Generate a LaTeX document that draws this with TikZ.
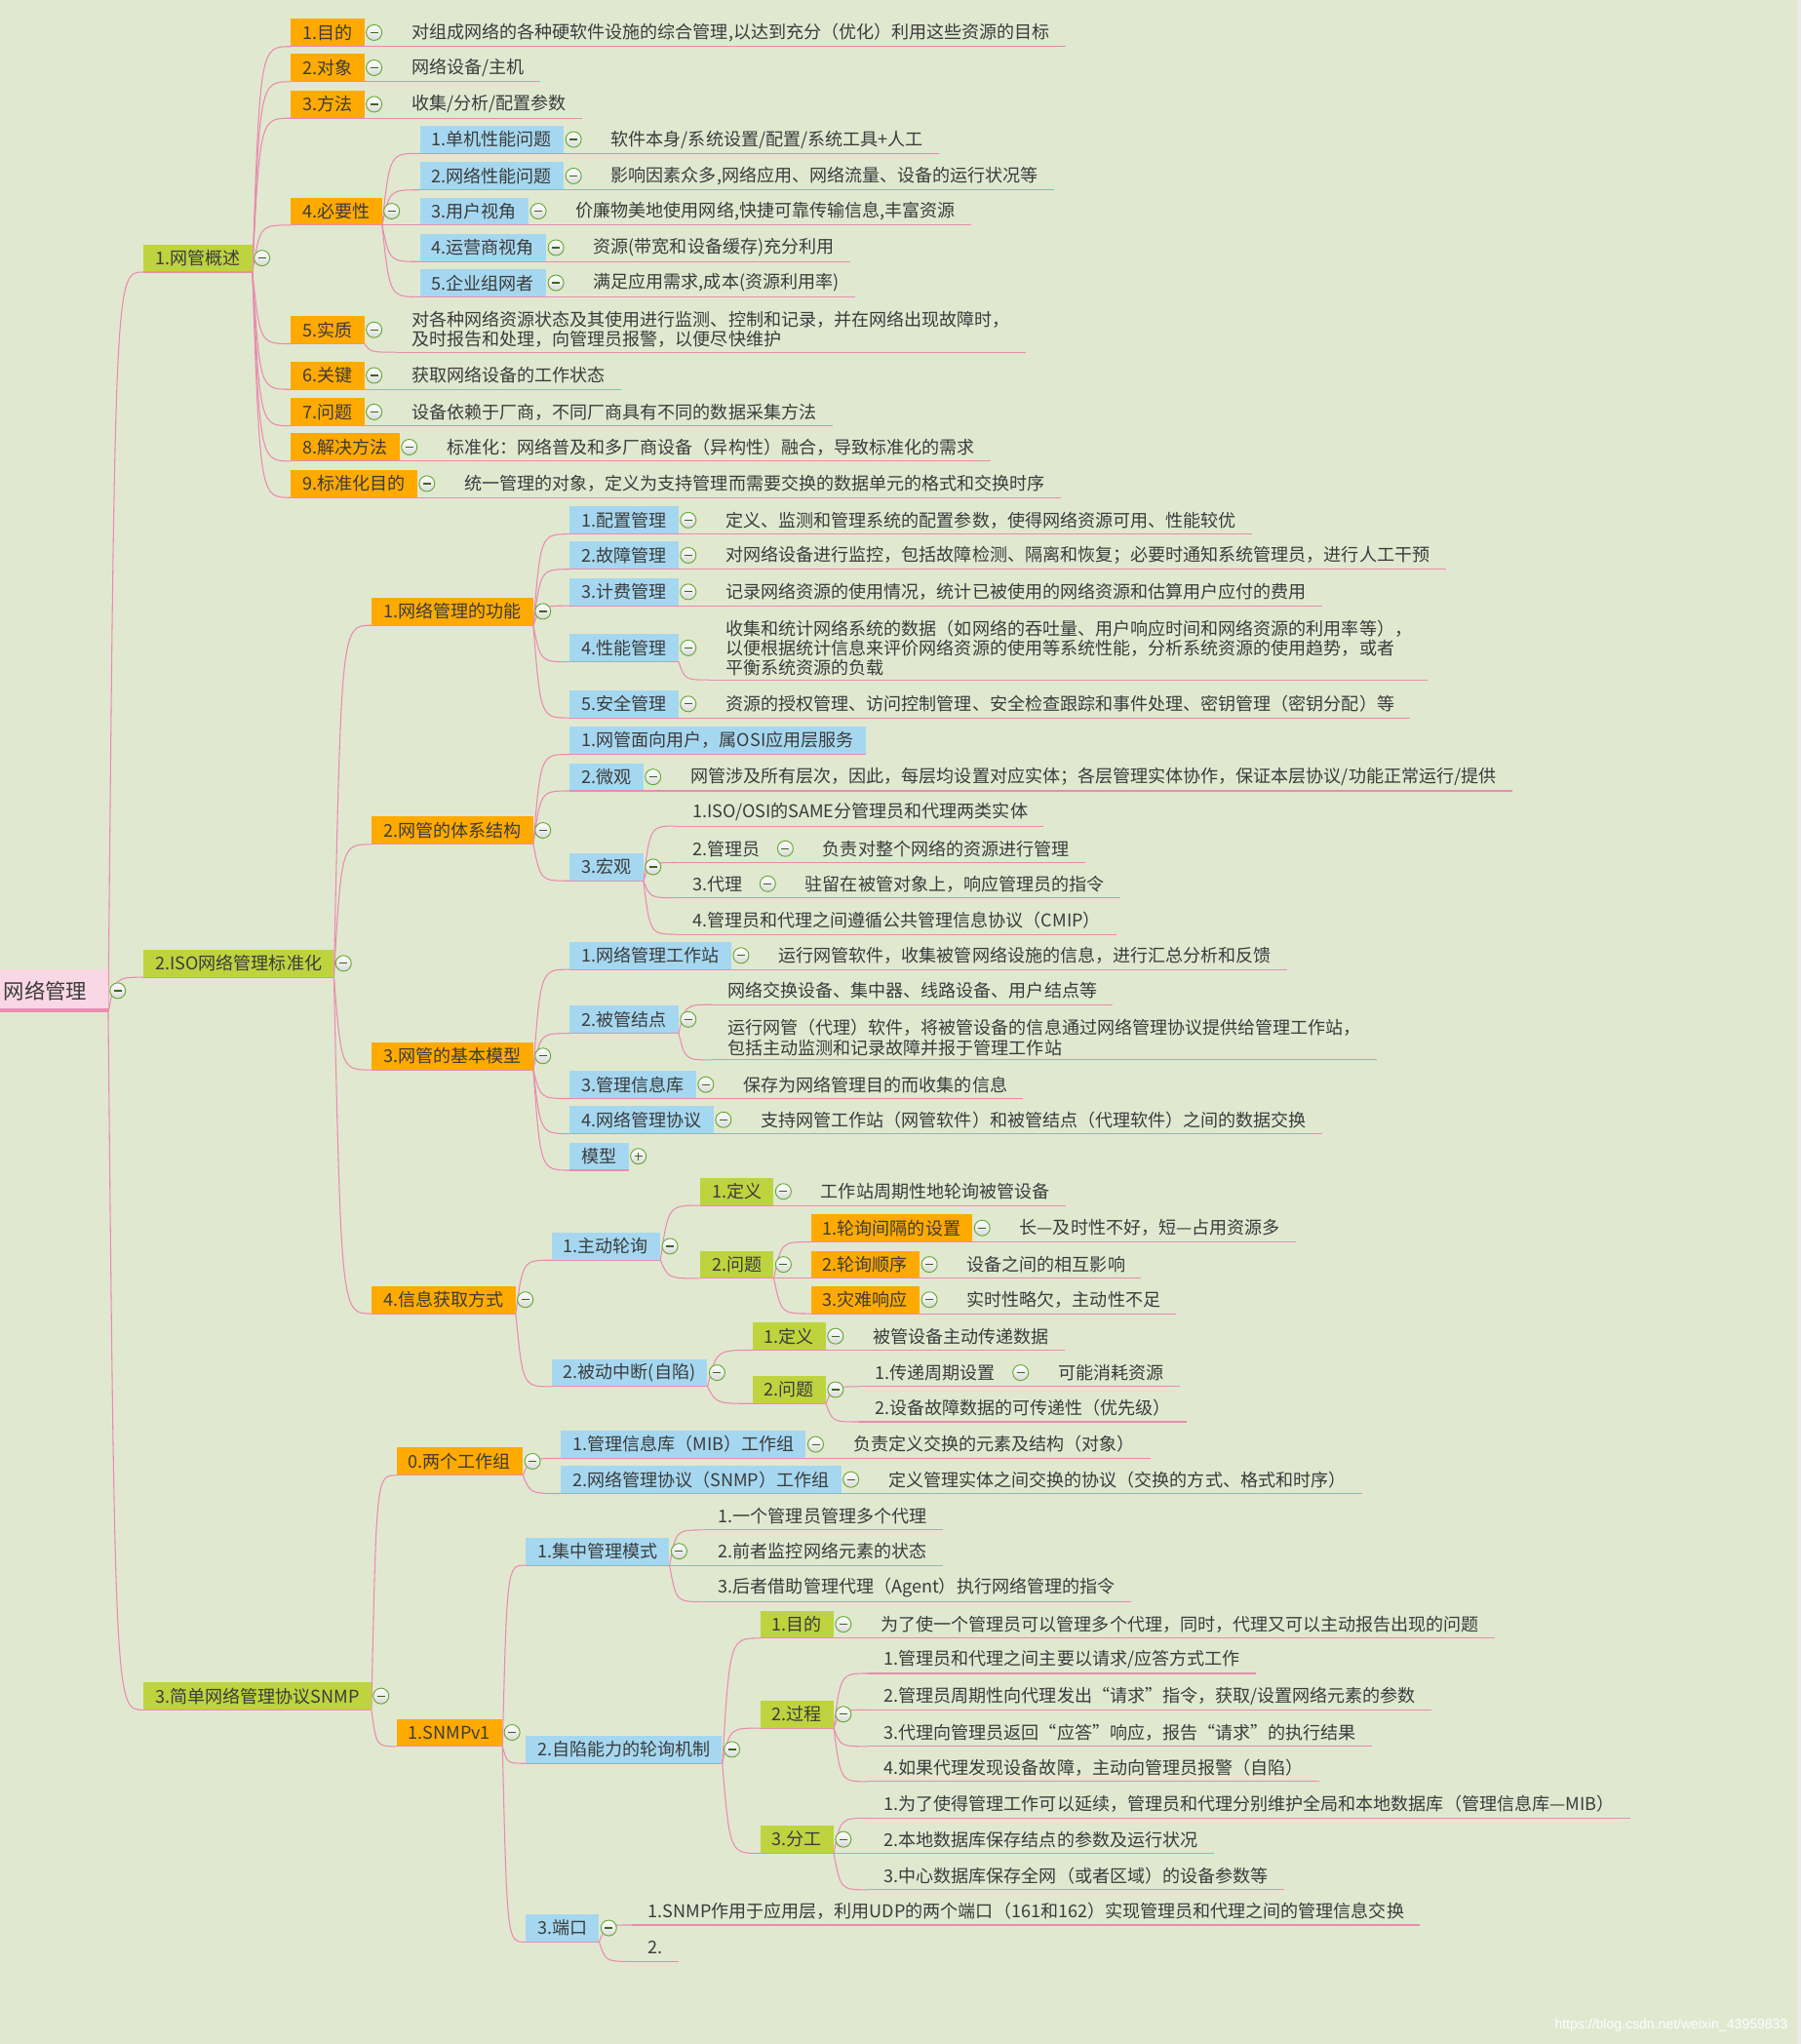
\documentclass[tikz,border=0pt]{standalone}
\usepackage{fontspec}
\newfontfamily\cjk{Noto Sans CJK SC}
\newfontfamily\wmfont{Liberation Sans}
\usepackage{tikz}
\usetikzlibrary{positioning,calc,backgrounds}
\usepackage{xcolor}
\definecolor{xbg}{RGB}{225,232,208}
\definecolor{xorange}{RGB}{255,170,0}
\definecolor{xblue}{RGB}{165,216,240}
\definecolor{xlime}{RGB}{190,212,62}
\definecolor{xroot}{RGB}{249,215,228}
\definecolor{xrootbar}{RGB}{234,140,178}
\definecolor{xpink}{RGB}{232,140,176}
\definecolor{xgreen}{RGB}{100,170,50}
\definecolor{ink}{RGB}{60,60,60}

\begin{document}
\begin{tikzpicture}[x=1pt,y=-1pt,
    every node/.style={font=\cjk\fontsize{13.5}{15}\selectfont, text=ink},
    uline/.style={append after command={(\tikzlastnode.south west) edge[draw=xpink, line width=0.8pt] (\tikzlastnode.south east)}},
    topic/.style={anchor=west, inner xsep=9pt, inner ysep=0pt, minimum height=21pt, uline},
    obox/.style={topic, fill=xorange},
    bbox/.style={topic, fill=xblue},
    gbox/.style={topic, fill=xlime},
    note/.style={anchor=west, inner xsep=12pt, inner ysep=3pt, minimum height=21pt, align=left, uline},
    fold/.style={circle, draw=xgreen, line width=0.7pt, top color=white, bottom color=black!15,
      minimum size=12pt, inner sep=0pt,
      path picture={\draw[xgreen!60!black, line width=0.9pt] ([xshift=-3pt]path picture bounding box.center) -- ([xshift=3pt]path picture bounding box.center);}},
    plusfold/.style={fold,
      path picture={\draw[xgreen!60!black, line width=0.9pt] ([xshift=-3pt]path picture bounding box.center) -- ([xshift=3pt]path picture bounding box.center)
        ([yshift=-3pt]path picture bounding box.center) -- ([yshift=3pt]path picture bounding box.center);}},
    folded/.style={label={[fold, label distance=1pt]0:{}}},
    unfolded/.style={label={[plusfold, label distance=1pt]0:{}}},
    link/.style={draw=xpink, line width=0.8pt,
      to path={let \p1=(\tikztostart), \p2=(\tikztotarget) in .. controls ({\x1+0.2*(\x2-\x1)},\y2) .. (\tikztotarget)}}]
  \useasboundingbox (0,0) rectangle (1382,1568);
  \begin{scope}[on background layer]
    \fill[xbg] (0,0) rectangle (1382,1568);
    \fill[black!8] (1379,0) rectangle (1382,1568);
  \end{scope}

  % central topic
  \node[fill=xroot, anchor=east, inner xsep=16pt, minimum height=33pt, folded,
    font=\cjk\fontsize{16}{18}\selectfont] (root) at (83,760) {网络管理};
  \fill[xrootbar] (root.south west) rectangle ([yshift=3pt]root.south east);

  \node[gbox, folded] (ov) at (110,198) {1.网管概述};
  \node[gbox, folded] (iso) at (110,739) {2.ISO网络管理标准化};
  \node[gbox, folded] (snmp) at (110,1301) {3.简单网络管理协议SNMP};

  % 1. overview
  \node[obox, folded] (ov1) at (223,25) {1.目的};
  \node[note, right=24pt of ov1] (ov1t) {对组成网络的各种硬软件设施的综合管理,以达到充分（优化）利用这些资源的目标};
  \node[obox, folded] (ov2) at (223,52) {2.对象};
  \node[note, right=24pt of ov2] (ov2t) {网络设备/主机};
  \node[obox, folded] (ov3) at (223,80) {3.方法};
  \node[note, right=24pt of ov3] (ov3t) {收集/分析/配置参数};
  \node[obox, folded] (ov4) at (223,162) {4.必要性};
    \node[bbox, folded] (ov4a) at (322,107) {1.单机性能问题};
    \node[note, right=24pt of ov4a] (ov4at) {软件本身/系统设置/配置/系统工具+人工};
    \node[bbox, folded] (ov4b) at (322,135) {2.网络性能问题};
    \node[note, right=24pt of ov4b] (ov4bt) {影响因素众多,网络应用、网络流量、设备的运行状况等};
    \node[bbox, folded] (ov4c) at (322,162) {3.用户视角};
    \node[note, right=24pt of ov4c] (ov4ct) {价廉物美地使用网络,快捷可靠传输信息,丰富资源};
    \node[bbox, folded] (ov4d) at (322,190) {4.运营商视角};
    \node[note, right=24pt of ov4d] (ov4dt) {资源(带宽和设备缓存)充分利用};
    \node[bbox, folded] (ov4e) at (322,217) {5.企业组网者};
    \node[note, right=24pt of ov4e] (ov4et) {满足应用需求,成本(资源利用率)};
  \node[obox, folded] (ov5) at (223,253) {5.实质};
  \node[note, right=24pt of ov5] (ov5t) {对各种网络资源状态及其使用进行监测、控制和记录，并在网络出现故障时，\\及时报告和处理，向管理员报警，以便尽快维护};
  \node[obox, folded] (ov6) at (223,288) {6.关键};
  \node[note, right=24pt of ov6] (ov6t) {获取网络设备的工作状态};
  \node[obox, folded] (ov7) at (223,316) {7.问题};
  \node[note, right=24pt of ov7] (ov7t) {设备依赖于厂商，不同厂商具有不同的数据采集方法};
  \node[obox, folded] (ov8) at (223,343) {8.解决方法};
  \node[note, right=24pt of ov8] (ov8t) {标准化：网络普及和多厂商设备（异构性）融合，导致标准化的需求};
  \node[obox, folded] (ov9) at (223,371) {9.标准化目的};
  \node[note, right=24pt of ov9] (ov9t) {统一管理的对象，定义为支持管理而需要交换的数据单元的格式和交换时序};

  % 2. ISO standard
  \node[obox, folded] (fn) at (285,469) {1.网络管理的功能};
    \node[bbox, folded] (fn1) at (437,399) {1.配置管理};
    \node[note, right=24pt of fn1] (fn1t) {定义、监测和管理系统的配置参数，使得网络资源可用、性能较优};
    \node[bbox, folded] (fn2) at (437,426) {2.故障管理};
    \node[note, right=24pt of fn2] (fn2t) {对网络设备进行监控，包括故障检测、隔离和恢复；必要时通知系统管理员，进行人工干预};
    \node[bbox, folded] (fn3) at (437,454) {3.计费管理};
    \node[note, right=24pt of fn3] (fn3t) {记录网络资源的使用情况，统计已被使用的网络资源和估算用户应付的费用};
    \node[bbox, folded] (fn4) at (437,497) {4.性能管理};
    \node[note, right=24pt of fn4] (fn4t) {收集和统计网络系统的数据（如网络的吞吐量、用户响应时间和网络资源的利用率等），\\以便根据统计信息来评价网络资源的使用等系统性能，分析系统资源的使用趋势，或者\\平衡系统资源的负载};
    \node[bbox, folded] (fn5) at (437,540) {5.安全管理};
    \node[note, right=24pt of fn5] (fn5t) {资源的授权管理、访问控制管理、安全检查跟踪和事件处理、密钥管理（密钥分配）等};
  \node[obox, folded] (ar) at (285,637) {2.网管的体系结构};
    \node[bbox] (ar1) at (437,568) {1.网管面向用户，属OSI应用层服务};
    \node[bbox, folded] (ar2) at (437,596) {2.微观};
    \node[note, right=24pt of ar2] (ar2t) {网管涉及所有层次，因此，每层均设置对应实体；各层管理实体协作，保证本层协议/功能正常运行/提供};
    \node[bbox, folded] (ar3) at (437,665) {3.宏观};
      \node[note] (ar3a) at (519,623) {1.ISO/OSI的SAME分管理员和代理两类实体};
      \node[note, folded] (ar3b) at (519,651) {2.管理员};
      \node[note, right=24pt of ar3b] (ar3bt) {负责对整个网络的资源进行管理};
      \node[note, folded] (ar3c) at (519,678) {3.代理};
      \node[note, right=24pt of ar3c] (ar3ct) {驻留在被管对象上，响应管理员的指令};
      \node[note] (ar3d) at (519,706) {4.管理员和代理之间遵循公共管理信息协议（CMIP）};
  \node[obox, folded] (bm) at (285,810) {3.网管的基本模型};
    \node[bbox, folded] (bm1) at (437,733) {1.网络管理工作站};
    \node[note, right=24pt of bm1] (bm1t) {运行网管软件，收集被管网络设施的信息，进行汇总分析和反馈};
    \node[bbox, folded] (bm2) at (437,782) {2.被管结点};
      \node[note] (bm2a) at (546,760) {网络交换设备、集中器、线路设备、用户结点等};
      \node[note] (bm2b) at (546,796) {运行网管（代理）软件，将被管设备的信息通过网络管理协议提供给管理工作站，\\包括主动监测和记录故障并报于管理工作站};
    \node[bbox, folded] (bm3) at (437,832) {3.管理信息库};
    \node[note, right=24pt of bm3] (bm3t) {保存为网络管理目的而收集的信息};
    \node[bbox, folded] (bm4) at (437,859) {4.网络管理协议};
    \node[note, right=24pt of bm4] (bm4t) {支持网管工作站（网管软件）和被管结点（代理软件）之间的数据交换};
    \node[bbox, unfolded] (bm5) at (437,887) {模型};
  \node[obox, folded] (ia) at (285,997) {4.信息获取方式};
    \node[bbox, folded] (ia1) at (423,956) {1.主动轮询};
      \node[gbox, folded] (ia1a) at (537,914) {1.定义};
      \node[note, right=24pt of ia1a] (ia1at) {工作站周期性地轮询被管设备};
      \node[gbox, folded] (ia1b) at (537,970) {2.问题};
        \node[obox, folded] (ia1b1) at (622,942) {1.轮询间隔的设置};
        \node[note, right=24pt of ia1b1] (ia1b1t) {长—及时性不好，短—占用资源多};
        \node[obox, folded] (ia1b2) at (622,970) {2.轮询顺序};
        \node[note, right=24pt of ia1b2] (ia1b2t) {设备之间的相互影响};
        \node[obox, folded] (ia1b3) at (622,997) {3.灾难响应};
        \node[note, right=24pt of ia1b3] (ia1b3t) {实时性略欠，主动性不足};
    \node[bbox, folded] (ia2) at (423,1053) {2.被动中断(自陷)};
      \node[gbox, folded] (ia2a) at (577,1025) {1.定义};
      \node[note, right=24pt of ia2a] (ia2at) {被管设备主动传递数据};
      \node[gbox, folded] (ia2b) at (577,1066) {2.问题};
        \node[note, folded] (ia2b1) at (659,1053) {1.传递周期设置};
        \node[note, right=24pt of ia2b1] (ia2b1t) {可能消耗资源};
        \node[note] (ia2b2) at (659,1080) {2.设备故障数据的可传递性（优先级）};

  % 3. SNMP
  \node[obox, folded] (wg) at (304,1121) {0.两个工作组};
    \node[bbox, folded] (wg1) at (430,1108) {1.管理信息库（MIB）工作组};
    \node[note, right=24pt of wg1] (wg1t) {负责定义交换的元素及结构（对象）};
    \node[bbox, folded] (wg2) at (430,1135) {2.网络管理协议（SNMP）工作组};
    \node[note, right=24pt of wg2] (wg2t) {定义管理实体之间交换的协议（交换的方式、格式和时序）};
  \node[obox, folded] (v1) at (304,1329) {1.SNMPv1};
    \node[bbox, folded] (v1a) at (403,1190) {1.集中管理模式};
      \node[note] (v1a1) at (539,1163) {1.一个管理员管理多个代理};
      \node[note] (v1a2) at (539,1190) {2.前者监控网络元素的状态};
      \node[note] (v1a3) at (539,1218) {3.后者借助管理代理（Agent）执行网络管理的指令};
    \node[bbox, folded] (v1b) at (403,1342) {2.自陷能力的轮询机制};
      \node[gbox, folded] (v1b1) at (583,1246) {1.目的};
      \node[note, right=24pt of v1b1] (v1b1t) {为了使一个管理员可以管理多个代理，同时，代理又可以主动报告出现的问题};
      \node[gbox, folded] (v1b2) at (583,1315) {2.过程};
        \node[note] (v1b2a) at (666,1273) {1.管理员和代理之间主要以请求/应答方式工作};
        \node[note] (v1b2b) at (666,1301) {2.管理员周期性向代理发出“请求”指令，获取/设置网络元素的参数};
        \node[note] (v1b2c) at (666,1329) {3.代理向管理员返回“应答”响应，报告“请求”的执行结果};
        \node[note] (v1b2d) at (666,1356) {4.如果代理发现设备故障，主动向管理员报警（自陷）};
      \node[gbox, folded] (v1b3) at (583,1411) {3.分工};
        \node[note] (v1b3a) at (666,1384) {1.为了使得管理工作可以延续，管理员和代理分别维护全局和本地数据库（管理信息库—MIB）};
        \node[note] (v1b3b) at (666,1411) {2.本地数据库保存结点的参数及运行状况};
        \node[note] (v1b3c) at (666,1439) {3.中心数据库保存全网（或者区域）的设备参数等};
    \node[bbox, folded] (v1c) at (403,1479) {3.端口};
      \node[note] (v1c1) at (485,1466) {1.SNMP作用于应用层，利用UDP的两个端口（161和162）实现管理员和代理之间的管理信息交换};
      \node[note] (v1c2) at (485,1494) {2.};

  % branches, behind the fold buttons
  \begin{scope}[on background layer]
  \foreach \a/\b in {root/ov, root/iso, root/snmp,
      ov/ov1, ov/ov2, ov/ov3, ov/ov4, ov/ov5, ov/ov6, ov/ov7, ov/ov8, ov/ov9,
      ov4/ov4a, ov4/ov4b, ov4/ov4c, ov4/ov4d, ov4/ov4e,
      iso/fn, iso/ar, iso/bm, iso/ia,
      fn/fn1, fn/fn2, fn/fn3, fn/fn4, fn/fn5,
      ar/ar1, ar/ar2, ar/ar3, ar3/ar3a, ar3/ar3b, ar3/ar3c, ar3/ar3d,
      bm/bm1, bm/bm2, bm/bm3, bm/bm4, bm/bm5, bm2/bm2a, bm2/bm2b,
      ia/ia1, ia/ia2, ia1/ia1a, ia1/ia1b, ia1b/ia1b1, ia1b/ia1b2, ia1b/ia1b3,
      ia2/ia2a, ia2/ia2b, ia2b/ia2b1, ia2b/ia2b2,
      snmp/wg, snmp/v1, wg/wg1, wg/wg2,
      v1/v1a, v1/v1b, v1/v1c, v1a/v1a1, v1a/v1a2, v1a/v1a3,
      v1b/v1b1, v1b/v1b2, v1b/v1b3, v1b2/v1b2a, v1b2/v1b2b, v1b2/v1b2c, v1b2/v1b2d,
      v1b3/v1b3a, v1b3/v1b3b, v1b3/v1b3c, v1c/v1c1, v1c/v1c2}
    \draw[link] (\a.south east) to (\b.south west);
  % topic to its own note
  \foreach \k/\t in {ov1/ov1t, ov2/ov2t, ov3/ov3t, ov4a/ov4at, ov4b/ov4bt, ov4c/ov4ct,
      ov4d/ov4dt, ov4e/ov4et, ov5/ov5t, ov6/ov6t, ov7/ov7t, ov8/ov8t, ov9/ov9t,
      fn1/fn1t, fn2/fn2t, fn3/fn3t, fn4/fn4t, fn5/fn5t, ar2/ar2t, ar3b/ar3bt, ar3c/ar3ct,
      bm1/bm1t, bm3/bm3t, bm4/bm4t, ia1a/ia1at, ia1b1/ia1b1t, ia1b2/ia1b2t, ia1b3/ia1b3t,
      ia2a/ia2at, ia2b1/ia2b1t, wg1/wg1t, wg2/wg2t, v1b1/v1b1t}
    \draw[link] (\k.south east) to (\t.south west);
  \end{scope}

  \node[font=\wmfont\fontsize{10.5}{12}\selectfont, text=white, anchor=east] (mark) at (1375,1554) {https://blog.csdn.net/weixin\_43959833};
\end{tikzpicture}
\end{document}
